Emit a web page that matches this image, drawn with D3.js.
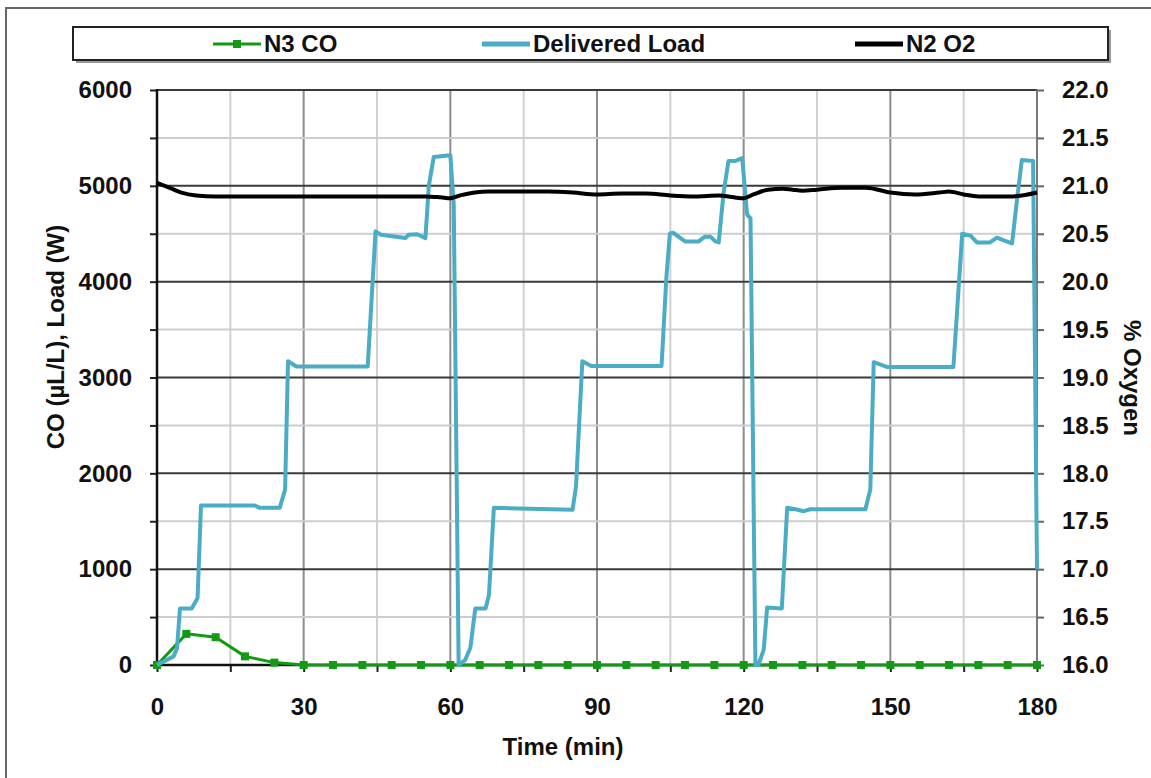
<!DOCTYPE html>
<html>
<head>
<meta charset="utf-8">
<script src="https://cdn.jsdelivr.net/npm/d3@7/dist/d3.min.js"></script>
<style>
	body { margin: 0; background: #fff; }
	svg text { font-family: "Liberation Sans", Arial, sans-serif; font-weight: bold; fill: #111; }
</style>
</head>
<body>
<svg width="1151" height="778"></svg>
<script>
// series data
let co_time = [0, 6, 12, 18, 24, 30, 36, 42, 48, 54, 60, 66, 72, 78, 84, 90, 96, 102, 108, 114, 120, 126, 132, 138, 144, 150, 156, 162, 168, 174, 180];
let co_value = [0, 325, 290, 90, 25, 0, 0, 0, 0, 0, 0, 0, 0, 0, 0, 0, 0, 0, 0, 0, 0, 0, 0, 0, 0, 0, 0, 0, 0, 0, 0];

let load_time = [0, 3.4, 4.1, 4.7, 7.1, 8.3, 9.0, 20, 21, 25.1, 26.2, 26.8, 28.5, 43.1, 44.7, 45.8, 50.8, 51.5, 53.2, 54.9, 55.6, 56.6, 60,
	60.7, 61.7, 63.0, 64.1, 65.1, 67.2, 67.9, 68.9, 85.0, 85.7, 87.0, 88.8, 103.2, 104.2, 104.9, 105.6, 108, 110.8, 112.1, 113.2, 114.2, 114.9, 115.9, 116.9, 118.3, 119.7,
	120.7, 121.4, 122.4, 123.0, 124.1, 124.8, 127.8, 128.9, 130.6, 132.3, 133.6, 144.9, 145.9, 146.6, 149.3, 162.9, 164.7, 166.4, 167.7, 170.4, 171.8, 173.2, 174.9, 175.9, 176.9, 179.2, 180];
let load_value = [0, 90, 175, 590, 590, 700, 1665, 1665, 1640, 1640, 1830, 3170, 3115, 3115, 4525, 4490, 4455, 4490, 4495, 4455, 5000, 5300, 5320,
	4800, 0, 50, 180, 590, 590, 730, 1640, 1620, 1860, 3170, 3120, 3120, 4050, 4500, 4510, 4420, 4420, 4470, 4470, 4420, 4410, 4930, 5260, 5260, 5290,
	4700, 4660, 0, 0, 160, 600, 590, 1640, 1625, 1605, 1625, 1625, 1830, 3160, 3110, 3110, 4500, 4480, 4410, 4410, 4460, 4430, 4400, 4850, 5270, 5260, 1000];

let o2_time = [0, 3, 5, 8, 12, 20, 30, 40, 50, 55, 58, 60, 62, 65, 68, 75, 80, 85, 90, 95, 100, 105, 110, 115, 118, 120, 122, 125, 128, 130, 132, 135, 140, 145, 150, 155, 160, 162, 165, 168, 175, 180];
let o2_value = [21.03, 20.97, 20.93, 20.90, 20.89, 20.89, 20.89, 20.89, 20.89, 20.89, 20.88, 20.87, 20.90, 20.93, 20.94, 20.94, 20.94, 20.93, 20.91, 20.92, 20.92, 20.90, 20.89, 20.90, 20.88, 20.87,
	20.91, 20.96, 20.97, 20.96, 20.95, 20.96, 20.98, 20.98, 20.93, 20.91, 20.93, 20.94, 20.91, 20.89, 20.89, 20.93];

let legend_names = ["N3 CO", "Delivered Load", "N2 O2"];
let colors = { co: "#139a13", load: "#4bacc6", o2: "#000000" };

function draw_chart() {
	let svg = d3.select("svg");

	let left = 157, right = 1037, top = 90, bottom = 665;

	let x = d3.scaleLinear().domain([0, 180]).range([left, right]);
	let y_left = d3.scaleLinear().domain([0, 6000]).range([bottom, top]);
	let y_right = d3.scaleLinear().domain([16, 22]).range([bottom, top]);

	// outer frame
	svg.append("path")
		.attr("d", "M 6 778 L 6 8 L 1151 8")
		.attr("fill", "none")
		.attr("stroke", "#666")
		.attr("stroke-width", 2);

	// grid lines
	let grid = svg.append("g");
	grid.selectAll(".vgrid")
		.data(d3.range(15, 180, 15))
		.enter()
		.append("line")
		.attr("x1", d => x(d)).attr("x2", d => x(d))
		.attr("y1", top).attr("y2", bottom)
		.attr("stroke", d => d % 30 === 0 ? "#8c8c8c" : "#d0d0d0")
		.attr("stroke-width", 2);
	grid.selectAll(".hgrid")
		.data(d3.range(500, 6001, 500))
		.enter()
		.append("line")
		.attr("x1", left).attr("x2", right)
		.attr("y1", d => y_left(d)).attr("y2", d => y_left(d))
		.attr("stroke", d => d % 1000 === 0 ? "#3a3a3a" : "#cdcdcd")
		.attr("stroke-width", 2);

	// right frame line of the plot area
	svg.append("line")
		.attr("x1", right).attr("x2", right)
		.attr("y1", top).attr("y2", bottom)
		.attr("stroke", "#7a7a7a")
		.attr("stroke-width", 2);

	// axes
	let ax_left = svg.append("g")
		.attr("transform", "translate(" + left + ",0)")
		.call(d3.axisLeft(y_left)
			.tickValues(d3.range(0, 6001, 500))
			.tickFormat(d => d % 1000 === 0 ? d : "")
			.tickSize(7)
			.tickPadding(18)
			.tickSizeOuter(0));

	let ax_right = svg.append("g")
		.attr("transform", "translate(" + right + ",0)")
		.call(d3.axisRight(y_right)
			.tickValues(d3.range(16, 22.01, 0.5))
			.tickFormat(d3.format(".1f"))
			.tickSize(7)
			.tickPadding(18)
			.tickSizeOuter(0));

	let ax_bottom = svg.append("g")
		.attr("transform", "translate(0," + bottom + ")")
		.call(d3.axisBottom(x)
			.tickValues(d3.range(0, 181, 15))
			.tickFormat(d => d % 30 === 0 ? d : "")
			.tickSize(7)
			.tickPadding(26)
			.tickSizeOuter(0));

	[ax_left, ax_right, ax_bottom].forEach(function(a) {
		a.selectAll("text").style("font-size", "24px").attr("fill", "#111");
		a.selectAll("line").attr("stroke", "#222").attr("stroke-width", 2);
		a.select(".domain").attr("stroke", "none");
	});
	ax_right.selectAll("line").attr("stroke", "#666");
	ax_right.selectAll("text").attr("text-anchor", "start");

	// axis lines on top of grid
	svg.append("line")
		.attr("x1", left).attr("x2", left).attr("y1", top - 1).attr("y2", bottom + 1)
		.attr("stroke", "#111").attr("stroke-width", 2.5);
	svg.append("line")
		.attr("x1", left).attr("x2", right).attr("y1", bottom).attr("y2", bottom)
		.attr("stroke", "#111").attr("stroke-width", 2.5);

	// axis titles
	svg.append("text")
		.attr("transform", "translate(64,337) rotate(-90)")
		.attr("text-anchor", "middle")
		.style("font-size", "24px")
		.text("CO (\u00b5L/L), Load (W)");
	svg.append("text")
		.attr("transform", "translate(1124,378) rotate(90)")
		.attr("text-anchor", "middle")
		.style("font-size", "24px")
		.text("% Oxygen");
	svg.append("text")
		.attr("x", 563).attr("y", 755)
		.attr("text-anchor", "middle")
		.style("font-size", "24px")
		.text("Time (min)");

	// series
	let plot = svg.append("g");

	let co_points = co_time.map((t, i) => [t, co_value[i]]);
	let load_points = load_time.map((t, i) => [t, load_value[i]]);
	let o2_points = o2_time.map((t, i) => [t, o2_value[i]]);

	let line_left = d3.line()
		.x(d => x(d[0]))
		.y(d => y_left(d[1]));
	let line_o2 = d3.line()
		.x(d => x(d[0]))
		.y(d => y_right(d[1]))
		.curve(d3.curveMonotoneX);

	plot.append("path")
		.attr("d", line_left(co_points))
		.attr("fill", "none")
		.attr("stroke", colors.co)
		.attr("stroke-width", 3)
		.attr("stroke-linejoin", "round");
	plot.selectAll(".co_marker")
		.data(co_points)
		.enter()
		.append("rect")
		.attr("class", "co_marker")
		.attr("x", d => x(d[0]) - 4)
		.attr("y", d => y_left(d[1]) - 4)
		.attr("width", 8)
		.attr("height", 8)
		.attr("fill", colors.co);

	plot.append("path")
		.attr("d", line_left(load_points))
		.attr("fill", "none")
		.attr("stroke", colors.load)
		.attr("stroke-width", 4)
		.attr("stroke-linejoin", "round");

	plot.append("path")
		.attr("d", line_o2(o2_points))
		.attr("fill", "none")
		.attr("stroke", colors.o2)
		.attr("stroke-width", 4);

	// legend box with shadow
	let lg = svg.append("g");
	lg.append("rect")
		.attr("x", 76).attr("y", 30).attr("width", 1035).attr("height", 33)
		.attr("fill", "#999");
	lg.append("rect")
		.attr("x", 73).attr("y", 27).attr("width", 1035).attr("height", 33)
		.attr("fill", "#fff")
		.attr("stroke", "#222")
		.attr("stroke-width", 2);

	let legend_x = [213, 482, 855];
	let legend_colors = [colors.co, colors.load, colors.o2];
	legend_names.forEach(function(name, i) {
		let x0 = legend_x[i];
		lg.append("line")
			.attr("x1", x0).attr("x2", x0 + 48)
			.attr("y1", 44).attr("y2", 44)
			.attr("stroke", legend_colors[i])
			.attr("stroke-width", i === 0 ? 3 : 5);
		if (i === 0) {
			lg.append("rect")
				.attr("x", x0 + 20).attr("y", 40)
				.attr("width", 8).attr("height", 8)
				.attr("fill", colors.co);
		}
		lg.append("text")
			.attr("x", x0 + 51).attr("y", 52)
			.style("font-size", "24px")
			.text(name);
	});
}

draw_chart();
</script>
</body>
</html>
